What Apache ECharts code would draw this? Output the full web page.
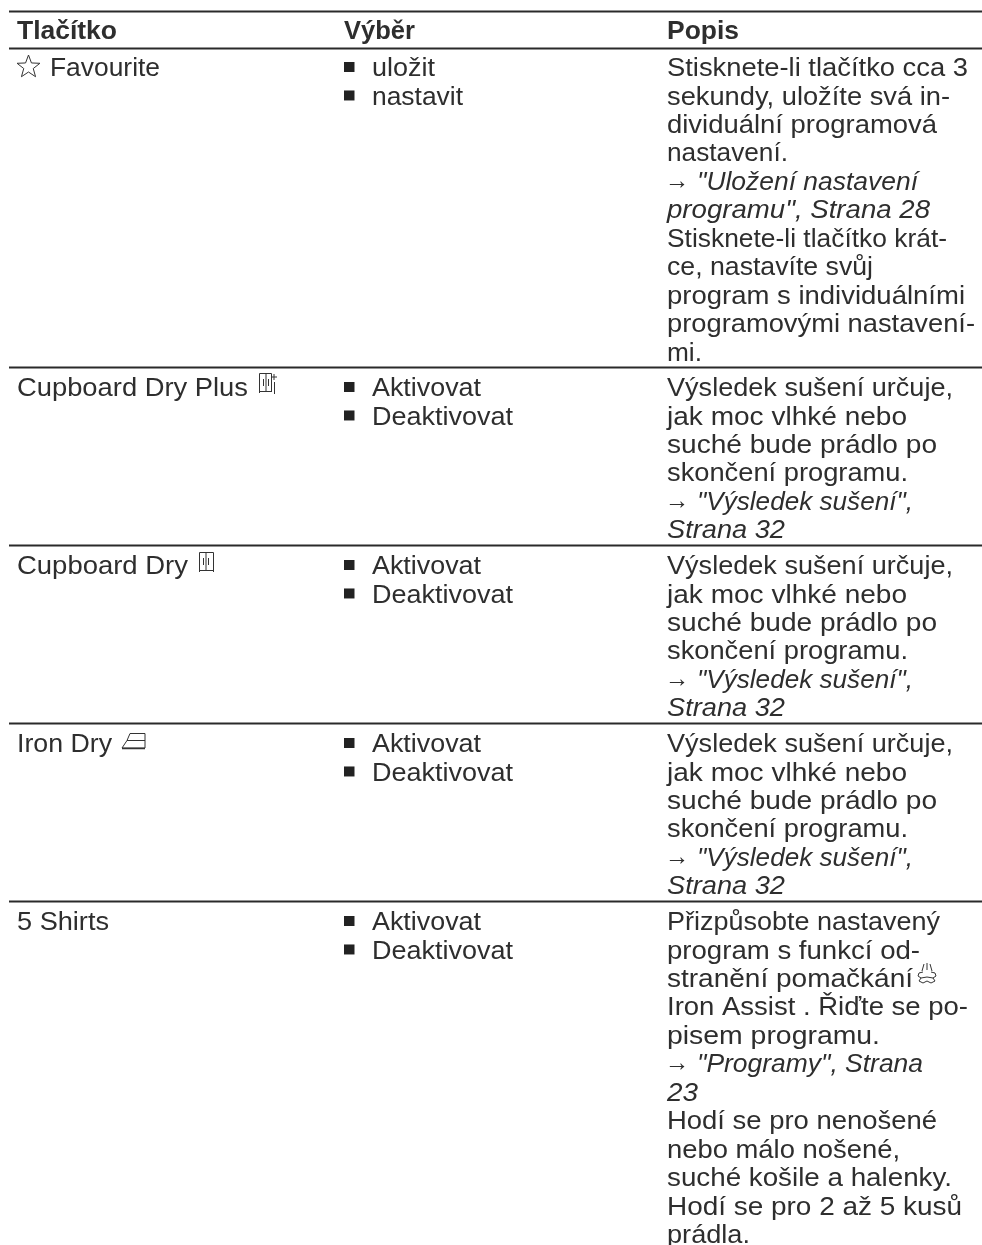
<!DOCTYPE html>
<html><head><meta charset="utf-8">
<style>html,body{margin:0;padding:0;background:#fff}#c{width:982px;height:1245px}</style>
<script src="https://cdn.jsdelivr.net/npm/echarts@6/dist/echarts.min.js"></script>
</head><body><div id="c"></div>
<script>
const headers = ['Tlačítko', 'Výběr', 'Popis'];
const buttons = ['Favourite', 'Cupboard Dry Plus', 'Cupboard Dry', 'Iron Dry', '5 Shirts'];
const selections = [
  ['uložit', 'nastavit'],
  ['Aktivovat', 'Deaktivovat'],
  ['Aktivovat', 'Deaktivovat'],
  ['Aktivovat', 'Deaktivovat'],
  ['Aktivovat', 'Deaktivovat']
];
const result = ['Výsledek sušení určuje,', 'jak moc vlhké nebo', 'suché bude prádlo po', 'skončení programu.', '→ "Výsledek sušení",', 'Strana 32'];
const descriptions = [
  ['Stisknete-li tlačítko cca 3', 'sekundy, uložíte svá in-', 'dividuální programová', 'nastavení.', '→ "Uložení nastavení', 'programu", Strana 28', 'Stisknete-li tlačítko krát-', 'ce, nastavíte svůj', 'program s individuálními', 'programovými nastavení-', 'mi.'],
  result, result, result,
  ['Přizpůsobte nastavený', 'program s funkcí od-', 'stranění pomačkání', 'Iron Assist . Řiďte se po-', 'pisem programu.', '→ "Programy", Strana', '23', 'Hodí se pro nenošené', 'nebo málo nošené,', 'suché košile a halenky.', 'Hodí se pro 2 až 5 kusů', 'prádla.']
];
const italicLines = [[4,5],[4,5],[4,5],[4,5],[5,6]];

// layout: rules, baselines, and where each line of text ends in the reference
const rowLineY = [48, 367, 545, 723, 901];
const firstLineY = [67, 387, 565, 743, 921];
const headerEnds = [117, 415, 739];
const buttonEnds = [160, 248, 188, 112, 109];
const selectionEnds = {'uložit':435, 'nastavit':463, 'Aktivovat':481, 'Deaktivovat':513};
const resultEnds = [953, 907, 937, 908, 913, 785];
const descriptionEnds = [
  [968, 950, 937, 788, 918, 930, 947, 873, 965, 975, 702],
  resultEnds, resultEnds, resultEnds,
  [940, 920, 913, 968, 880, 923, 698, 937, 900, 952, 962, 750]
];

const FONT = '"Liberation Sans", Arial, sans-serif';
const SIZE = 25.6, LH = 28.47, INK = '#2e2e2e';
const X1 = 17, X2 = 344, X2T = 372, X3 = 667, YSHIFT = -0.0;

const measureCtx = document.createElement('canvas').getContext('2d');
const g = [];
function text(x, y, s, o) {
  o = o || {};
  const font = (o.italic?'italic ':'')+(o.bold?'bold ':'')+SIZE+'px '+FONT;
  measureCtx.font = font;
  const scale = o.end ? (o.end - x) / measureCtx.measureText(s).width : (o.scale || 1);
  g.push({type:'text', x, y: y + 2 + YSHIFT, silent:true, scaleX: scale,
    style:{ text:s, fill:INK, font, verticalAlign:'middle', align:'left' }});
}
function rule(y, w) {
  g.push({type:'line', silent:true, shape:{x1:9,y1:y,x2:982,y2:y}, style:{stroke:'#2a2a2a', lineWidth:w}});
}
function pl(pts, close, w) {
  g.push({type:close?'polygon':'polyline', silent:true, shape:{points:pts},
    style:{stroke:'#333', lineWidth:w||1, fill:close?'#fff':'none'}});
}
rule(11.5, 2);
rowLineY.forEach(y => rule(y+0.5, 2));

headers.forEach((h,i) => text([X1,X2,X3][i], 30, h, {bold:true, end:headerEnds[i]}));
buttons.forEach((b,i) => { const x = i===0?50:X1; text(x, firstLineY[i], b, {end:buttonEnds[i]}); });
selections.forEach((sel,i) => sel.forEach((s,j) => {
  const y = firstLineY[i] + j*LH;
  g.push({type:'rect', silent:true, shape:{x:344,y:y-5,width:10.5,height:10}, style:{fill:'#222'}});
  text(X2T, y, s, {end:selectionEnds[s]});
}));
descriptions.forEach((lines,i) => lines.forEach((s,j) => {
  const y = firstLineY[i] + j*LH;
  const it = italicLines[i].includes(j);
  const end = descriptionEnds[i][j];
  if (s.startsWith('→')) {
    text(X3-2, y-1, '→', {scale:0.95});
    text(X3+30, y, s.slice(2), {italic:true, end});
  } else text(X3, y, s, {italic:it, end});
}));

// star icon
(function(){
  const cx=28.5, cy=67, R=12, r=5, p=[];
  for(let k=0;k<10;k++){const a=-Math.PI/2+k*Math.PI/5, q=k%2?r:R; p.push([cx+q*Math.cos(a),cy+q*Math.sin(a)]);}
  pl(p,true);
})();
// cupboard icons
function cupboard(x, y, plus) {
  const w = plus ? 14 : 16;
  pl([[x+1,y+18.5],[x+w,y+18.5]]);
  pl([[x+1.5,y+20],[x+1.5,y+0.5],[x+w-0.5,y+0.5],[x+w-0.5,plus?y+18:y+20]]);
  pl([[x+8,y],[x+8,y+18]]);
  pl([[x+5.5,y+6],[x+5.5,y+13]]);
  pl([[x+10.5,y+6],[x+10.5,y+13]]);
  if (plus) { pl([[x+16,y+1],[x+16,y+7]]); pl([[x+13,y+4],[x+19,y+4]]); pl([[x+16.5,y+9],[x+16.5,y+21]]); }
}
cupboard(258, 373, true);
cupboard(198, 552, false);
// iron icon
pl([[130,733.5],[145,733.5],[145,748],[122,748],[127,740.5],[145,740.5]]);
pl([[127,740.5],[130,733.5]]);
pl([[122,748.5],[145,748.5]], false, 1.5);
// steam icon
(function(){
  const x=918, y=965;
  pl([[x+6,y-1],[x+4,y+6]]); pl([[x+9,y-2],[x+9,y+5]]); pl([[x+12,y-1],[x+14,y+6]]);
  pl([[x+5,y+7],[x+1,y+8],[x,y+11],[x+3,y+13],[x+1,y+16],[x+5,y+18],[x+9,y+16],[x+13,y+18],[x+17,y+16],[x+15,y+13],[x+18,y+11],[x+17,y+8],[x+13,y+7]]);
  pl([[x+3,y+13],[x+9,y+12],[x+15,y+13]]);
})();

const chart = echarts.init(document.getElementById('c'), null, {renderer:'canvas'});
chart.setOption({animation:false, backgroundColor:'#fff', graphic:{elements:g}});
</script></body></html>
